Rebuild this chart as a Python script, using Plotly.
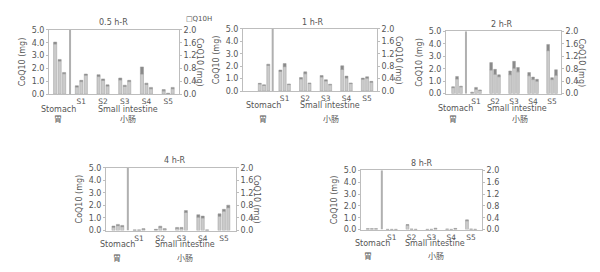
import plotly.graph_objects as go

# ---------------- data ----------------
GROUPS = ["Stomach", "S1", "S2", "S3", "S4", "S5"]
PANEL_TITLES = ["0.5 h-R", "1 h-R", "2 h-R", "4 h-R", "8 h-R"]
LEFT_TICKS = [0.0, 1.0, 2.0, 3.0, 4.0, 5.0]
RIGHT_TICKS = [0.0, 0.4, 0.8, 1.2, 1.6, 2.0]
LEGEND_NAME = "Q10H"

# total bar heights (mg), three replicate bars per group
TOTAL_05H = [[4.05, 0.66, 1.52, 1.26, 2.12, 0.36],
             [2.70, 1.08, 1.19, 0.70, 0.86, 0.08],
             [1.69, 1.57, 0.73, 1.08, 0.53, 0.53]]
TOTAL_1H = [[0.62, 1.69, 1.09, 1.25, 2.03, 1.04],
            [0.50, 2.21, 1.54, 0.91, 1.20, 1.15],
            [2.16, 0.57, 0.65, 0.55, 0.65, 0.78]]
TOTAL_2H = [[0.56, 0.12, 2.49, 1.82, 1.69, 3.95],
            [1.38, 0.50, 1.95, 2.59, 1.33, 1.28],
            [0.60, 0.30, 1.51, 2.10, 1.15, 1.92]]
TOTAL_4H = [[0.36, 0.05, 0.10, 0.25, 1.26, 1.33],
            [0.49, 0.05, 0.35, 0.25, 1.15, 1.69],
            [0.41, 0.15, 0.15, 1.59, 0.05, 2.02]]
TOTAL_8H = [[0.08, 0.02, 0.42, 0.02, 0.05, 0.82],
            [0.08, 0.02, 0.05, 0.03, 0.02, 0.05],
            [0.08, 0.02, 0.03, 0.12, 0.10, 0.03]]

# darker top segment of each bar (mg)
TOP_05H = [[0.15, 0.10, 0.15, 0.15, 0.55, 0.10],
           [0.12, 0.10, 0.12, 0.10, 0.10, 0.05],
           [0.10, 0.10, 0.10, 0.10, 0.10, 0.10]]
TOP_1H = [[0.05, 0.12, 0.12, 0.12, 0.30, 0.10],
          [0.05, 0.25, 0.15, 0.10, 0.15, 0.12],
          [0.10, 0.05, 0.05, 0.05, 0.05, 0.08]]
TOP_2H = [[0.08, 0.05, 0.60, 0.30, 0.25, 0.50],
          [0.20, 0.15, 0.40, 0.55, 0.20, 0.15],
          [0.05, 0.05, 0.15, 0.35, 0.15, 0.45]]
TOP_4H = [[0.10, 0.02, 0.05, 0.08, 0.20, 0.20],
          [0.10, 0.02, 0.10, 0.08, 0.15, 0.15],
          [0.10, 0.05, 0.05, 0.15, 0.02, 0.20]]
TOP_8H = [[0.04, 0.01, 0.05, 0.01, 0.03, 0.08],
          [0.04, 0.01, 0.03, 0.02, 0.01, 0.03],
          [0.04, 0.01, 0.02, 0.06, 0.05, 0.02]]

TOTALS = [TOTAL_05H, TOTAL_1H, TOTAL_2H, TOTAL_4H, TOTAL_8H]
TOPS = [TOP_05H, TOP_1H, TOP_2H, TOP_4H, TOP_8H]

# ---------------- layout (pixels) ----------------
W, H = 600, 272
# plot boxes: left, right, top(y=5), bottom(y=0)
BOXES = [(49, 179, 26.7, 93.3),
         (243, 377, 25.7, 90.0),
         (446, 561, 28.3, 92.7),
         (106, 236, 169.3, 234.3),
         (361, 482, 172.0, 233.3)]
XRANGES = [(-0.49, 5.5), (-1.02, 5.48), (-0.58, 5.47), (-0.56, 5.57), (-0.55, 5.55)]
SEPS = [0.48, 0.42, 0.47, 0.47, 0.5]
TITLE_POS = [(113, 19), (313, 19), (502, 21), (175, 162), (422, 165)]
STOMACH_POS = [(58, 109.5, 58, 118.5), (263, 105, 263, 118), (455, 108.5, 453, 118.5),
               (117, 248.5, 117, 262), (372, 248, 368, 260.5)]
SI_POS = [(128, 109.5, 128, 118.5), (330, 105, 331, 118), (517, 108.5, 520, 118.5),
          (185, 248.5, 185, 262), (435, 248, 436, 260.5)]
RIGHT_TITLE = [True, True, True, True, False]

LIGHT = "#cbcbcb"
DARK = "#8a8a8a"
EDGE = "#9a9a9a"
FRAME = "#bdbdbd"
TXT = "#555555"
FONT = "DejaVu Sans"
FS = 8


def px(x):
    return x / W


def py(y):
    return 1 - y / H


fig = go.Figure()
annotations = []
shapes = []
layout = {}

for p in range(5):
    xname = "x" if p == 0 else f"x{p + 1}"
    yl_n = 2 * p + 1
    yr_n = 2 * p + 2
    ylname = "y" if yl_n == 1 else f"y{yl_n}"
    yrname = f"y{yr_n}"
    xkey = "xaxis" if p == 0 else f"xaxis{p + 1}"
    ylkey = "yaxis" if yl_n == 1 else f"yaxis{yl_n}"
    yrkey = f"yaxis{yr_n}"

    for r in range(3):
        tot = TOTALS[p][r]
        top = TOPS[p][r]
        lower = [t - d for t, d in zip(tot, top)]
        fig.add_bar(x=GROUPS, y=lower, xaxis=xname, yaxis=ylname,
                    offsetgroup=str(r), showlegend=False,
                    marker=dict(color=LIGHT, line=dict(color=EDGE, width=0.5)))
        fig.add_bar(x=GROUPS, y=top, base=lower, xaxis=xname, yaxis=ylname,
                    offsetgroup=str(r), showlegend=False,
                    marker=dict(color=DARK, line=dict(color=EDGE, width=0.5)))
    fig.add_scatter(x=[GROUPS[0]], y=[None], xaxis=xname, yaxis=yrname,
                    mode="markers", showlegend=False, hoverinfo="skip")

    L, R, T, B = BOXES[p]
    layout[xkey] = dict(domain=[px(L), px(R)], anchor=ylname,
                        type="category", categoryarray=GROUPS, categoryorder="array",
                        range=list(XRANGES[p]),
                        tickvals=GROUPS[1:], ticktext=GROUPS[1:],
                        showline=True, linecolor=FRAME, linewidth=1, mirror=True,
                        showgrid=False, ticks="", ticklen=0, ticklabelstandoff=0,
                        zeroline=False,
                        tickfont=dict(family=FONT, size=7.5, color=TXT),
                        fixedrange=True)
    layout[ylkey] = dict(domain=[py(B), py(T)], anchor=xname,
                         range=[0, 5], tickvals=LEFT_TICKS, tickformat=".1f",
                         showline=True, linecolor=FRAME, linewidth=1,
                         showgrid=False, zeroline=False, ticks="outside",
                         ticklen=2, tickcolor=FRAME,
                         tickfont=dict(family=FONT, size=FS, color=TXT),
                         title=dict(text="CoQ10 (mg)", standoff=4,
                                    font=dict(family=FONT, size=FS, color=TXT)),
                         fixedrange=True)
    layout[yrkey] = dict(domain=[py(B), py(T)], anchor=xname, overlaying=ylname,
                         side="right", range=[0, 2], tickvals=RIGHT_TICKS,
                         tickformat=".1f", showline=True, linecolor=FRAME,
                         linewidth=1, showgrid=False, zeroline=False,
                         ticks="outside", ticklen=2, tickcolor=FRAME,
                         tickfont=dict(family=FONT, size=FS, color=TXT),
                         fixedrange=True)

    shapes.append(dict(type="line", xref=xname, yref=ylname,
                       x0=SEPS[p], x1=SEPS[p], y0=0, y1=5,
                       line=dict(color="#b0b0b0", width=2)))

    tx, ty = TITLE_POS[p]
    annotations.append(dict(text=PANEL_TITLES[p], x=px(tx), y=py(ty),
                            xref="paper", yref="paper", showarrow=False,
                            xanchor="center", yanchor="middle",
                            font=dict(family=FONT, size=FS, color=TXT)))
    sx, sy, cx, cy = STOMACH_POS[p]
    annotations.append(dict(text="Stomach", x=px(sx), y=py(sy), xref="paper",
                            yref="paper", showarrow=False, xanchor="center",
                            yanchor="middle",
                            font=dict(family=FONT, size=FS, color=TXT)))
    annotations.append(dict(text="胃", x=px(cx), y=py(cy), xref="paper",
                            yref="paper", showarrow=False, xanchor="center",
                            yanchor="middle",
                            font=dict(family="Noto Sans CJK SC", size=FS, color=TXT)))
    sx, sy, cx, cy = SI_POS[p]
    annotations.append(dict(text="Small intestine", x=px(sx), y=py(sy), xref="paper",
                            yref="paper", showarrow=False, xanchor="center",
                            yanchor="middle",
                            font=dict(family=FONT, size=FS, color=TXT)))
    annotations.append(dict(text="小肠", x=px(cx), y=py(cy), xref="paper",
                            yref="paper", showarrow=False, xanchor="center",
                            yanchor="middle",
                            font=dict(family="Noto Sans CJK SC", size=FS, color=TXT)))
    if RIGHT_TITLE[p]:
        annotations.append(dict(text="CoQ10 (mg)", x=px(R + 21), y=py((T + B) / 2),
                                xref="paper", yref="paper", showarrow=False,
                                xanchor="center", yanchor="middle", textangle=90,
                                font=dict(family=FONT, size=FS, color=TXT)))

annotations.append(dict(text="□" + LEGEND_NAME, x=px(199), y=py(15), xref="paper",
                        yref="paper", showarrow=False, xanchor="center",
                        yanchor="middle", font=dict(family=FONT, size=7, color=TXT)))

fig.update_layout(**layout)
fig.update_layout(width=W, height=H, margin=dict(l=0, r=0, t=0, b=0),
                  paper_bgcolor="white", plot_bgcolor="white",
                  barmode="group", bargap=0.38, bargroupgap=0.3,
                  showlegend=False, annotations=annotations, shapes=shapes,
                  font=dict(family=FONT, color=TXT))

fig.write_html("out.html")
